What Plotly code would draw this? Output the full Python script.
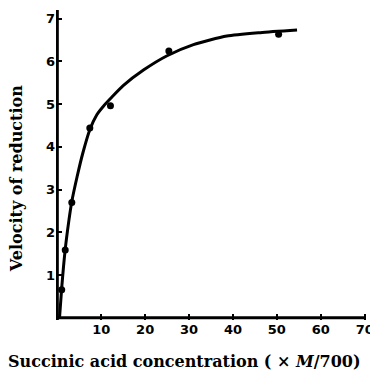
import plotly.graph_objects as go

# measured data points
conc = [1.0, 1.8, 3.3, 7.4, 12.1, 25.4, 50.4]
velocity = [0.66, 1.59, 2.7, 4.44, 4.96, 6.24, 6.63]

# fitted curve
curve_x = [0.5, 1.0, 1.8, 2.6, 3.3, 4.5, 5.8, 7.4, 9.0, 10.5, 12.5, 15.0, 19.7, 25.0, 31.0, 38.6, 46.2, 54.6]
curve_y = [0.0, 0.7, 1.6, 2.25, 2.72, 3.3, 3.85, 4.4, 4.75, 4.95, 5.17, 5.43, 5.8, 6.13, 6.39, 6.59, 6.67, 6.73]

x_ticks = [10, 20, 30, 40, 50, 60, 70]
y_ticks = [1, 2, 3, 4, 5, 6, 7]

fig = go.Figure()
fig.add_trace(go.Scatter(x=curve_x, y=curve_y, mode="lines",
                         line=dict(color="black", width=3, shape="spline", smoothing=0.6),
                         hoverinfo="skip"))
fig.add_trace(go.Scatter(x=conc, y=velocity, mode="markers",
                         marker=dict(color="black", size=7)))

tickfont = dict(family="DejaVu Sans", size=13, color="black", weight="bold")
# page body has an 8px default margin, so the figure is 8px smaller
fig.update_layout(
    width=370, height=367,
    margin=dict(l=48, r=12, t=2, b=55),
    paper_bgcolor="white", plot_bgcolor="white",
    showlegend=False,
    xaxis=dict(range=[-0.3, 70.3], tickvals=x_ticks, ticktext=[str(v) for v in x_ticks],
               showgrid=False, zeroline=False, showline=False,
               ticks="inside", ticklen=6, tickwidth=2, tickcolor="black",
               tickfont=tickfont, automargin=False),
    yaxis=dict(range=[-0.05, 7.2], tickvals=y_ticks, ticktext=[str(v) for v in y_ticks],
               showgrid=False, zeroline=False, showline=False,
               ticks="inside", ticklen=6, tickwidth=2, tickcolor="black",
               tickfont=tickfont, automargin=False),
    shapes=[
        dict(type="line", xref="x", yref="y", x0=-0.3, x1=70.3, y0=0, y1=0,
             line=dict(color="black", width=3)),
        dict(type="line", xref="x", yref="y", x0=0, x1=0, y0=-0.05, y1=7.2,
             line=dict(color="black", width=3)),
    ],
    annotations=[
        dict(text="Succinic acid concentration ( × <i>M</i>/700)", xref="paper", yref="paper",
             x=0.416, y=-0.135, xanchor="center", yanchor="middle", showarrow=False,
             font=dict(family="DejaVu Serif", size=16, color="black", weight="bold")),
        dict(text="Velocity of reduction", xref="paper", yref="paper",
             x=-0.125, y=0.455, xanchor="center", yanchor="middle", showarrow=False, textangle=-90,
             font=dict(family="DejaVu Serif", size=16, color="black", weight="bold")),
    ],
)
fig.write_html("out.html")
